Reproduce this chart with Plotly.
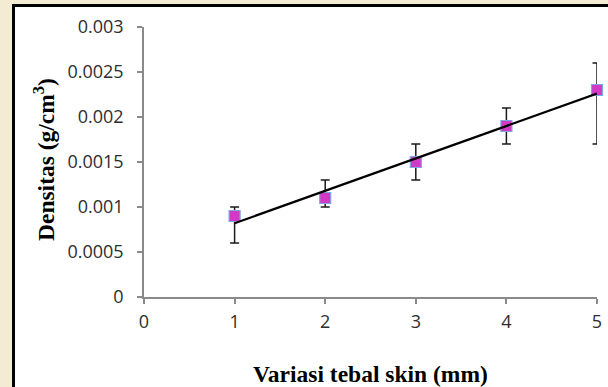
import numpy as np
import plotly.graph_objects as go

x_vals = [1, 2, 3, 4, 5]
densitas = [0.0009, 0.0011, 0.0015, 0.0019, 0.0023]
err_plus = [0.0001, 0.0002, 0.0002, 0.0002, 0.0003]
err_minus = [0.0003, 0.0001, 0.0002, 0.0002, 0.0006]
y_ticks = [0, 0.0005, 0.001, 0.0015, 0.002, 0.0025, 0.003]
y_tick_labels = ["0", "0.0005", "0.001", "0.0015", "0.002", "0.0025", "0.003"]
x_ticks = [0, 1, 2, 3, 4, 5]

slope, intercept = np.polyfit(x_vals, densitas, 1)
trend_x = [x_vals[0], x_vals[-1]]
trend_y = [slope * v + intercept for v in trend_x]

fig = go.Figure()
fig.add_trace(go.Scatter(
    x=x_vals, y=densitas, mode="markers", cliponaxis=False,
    marker=dict(symbol="square", size=11, color="#d23ac6",
                line=dict(color="#7fa6e0", width=1.2)),
    error_y=dict(type="data", symmetric=False, array=err_plus, arrayminus=err_minus,
                 color="#1a1a1a", thickness=1.5, width=4.5),
    showlegend=False,
))
fig.add_trace(go.Scatter(
    x=trend_x, y=trend_y, mode="lines", cliponaxis=False,
    line=dict(color="black", width=2.2), showlegend=False,
))

tick_font = dict(family="Open Sans", size=18, color="#2e2e2e")
fig.update_layout(
    template="none",
    width=608, height=387,
    margin=dict(l=144, r=11, t=27, b=90),
    paper_bgcolor="#f3ecd3",
    plot_bgcolor="rgba(0,0,0,0)",
    xaxis=dict(range=[0, 5], tickvals=x_ticks, showgrid=False, zeroline=False,
               automargin=False,
               showline=True, linecolor="#8a8a8a", linewidth=1.5,
               ticks="outside", ticklen=5, tickcolor="#8a8a8a", tickwidth=1.5,
               tickfont=tick_font, ticklabelstandoff=3),
    yaxis=dict(range=[0, 0.003], tickvals=y_ticks, ticktext=y_tick_labels,
               showgrid=False, zeroline=False, automargin=False,
               showline=True, linecolor="#8a8a8a", linewidth=1.5,
               ticks="outside", ticklen=5, tickcolor="#8a8a8a", tickwidth=1.5,
               tickfont=tick_font, ticklabelstandoff=10),
    shapes=[dict(type="rect", xref="paper", yref="paper", layer="below",
                 x0=(13.5 - 144) / 453, x1=1.5, y0=-0.5, y1=1 + (27 - 5.5) / 270,
                 fillcolor="white", line=dict(color="black", width=3))],
    annotations=[
        dict(text="<b>Variasi tebal skin (mm)</b>", xref="paper", yref="paper",
             x=(370 - 144) / 453, y=-(374 - 297) / 270, xanchor="center", yanchor="middle",
             showarrow=False, font=dict(family="Liberation Serif", size=23.5, color="black")),
        dict(text="<b>Densitas (g/cm<sup>3</sup>)</b>", xref="paper", yref="paper",
             x=(44 - 144) / 453, y=(297 - 160) / 270, xanchor="center", yanchor="middle",
             textangle=-90, showarrow=False,
             font=dict(family="Liberation Serif", size=23.5, color="black")),
    ],
)
fig.write_html("out.html")
